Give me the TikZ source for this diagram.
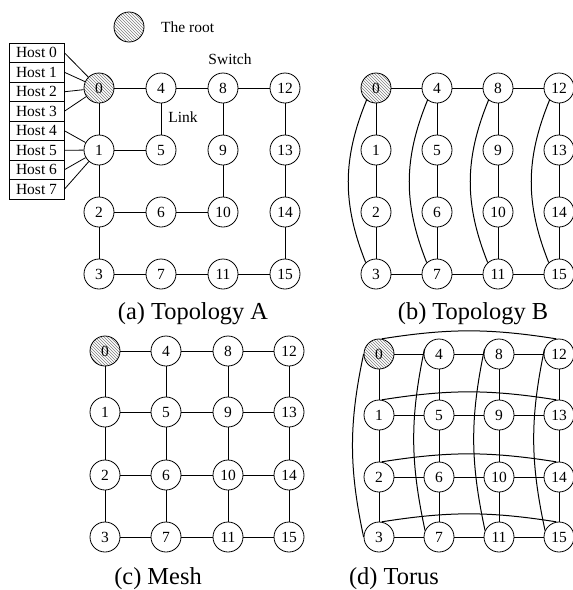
\documentclass[tikz,border=0pt]{standalone}
\usepackage{fontspec}
\setmainfont{Liberation Serif}
\usetikzlibrary{patterns}
\begin{document}
\begin{tikzpicture}[x=1pt,y=-1pt,
  sw/.style={draw,circle,line width=0.8pt,minimum size=30pt,inner sep=0pt,fill=white,font=\fontsize{15.5}{16}\selectfont},
  rootsw/.style={draw,circle,line width=0.8pt,minimum size=30pt,inner sep=0pt,pattern=north west lines,pattern color=gray,font=\fontsize{15.5}{16}\selectfont},
  hostbox/.style={draw,line width=0.8pt,minimum width=55pt,minimum height=19.5pt,inner sep=0pt,font=\fontsize{15.5}{16}\selectfont},
  lbl/.style={inner sep=0pt,font=\fontsize{15.5}{16}\selectfont},
  captxt/.style={inner sep=0pt,anchor=base,font=\fontsize{24.4}{26}\selectfont},
  lnk/.style={line width=0.8pt},
  arc/.style={line width=1pt}]
\useasboundingbox (0,0) rectangle (573,590);
\fill[white] (0,0) rectangle (573,590);

% ---- panel nodes ----
\foreach \P/\xa/\xb/\xc/\xd/\ya/\yb/\yc/\yd in {a/99/161/223/285/88/150/212/274, b/376/437/498/559/88/150/212/274, c/105/166/228/289/351/412/475/537, d/379/439/499/559/354/415/477/537}{
  \foreach \c/\x in {0/\xa,1/\xb,2/\xc,3/\xd}{
    \foreach \r/\y in {0/\ya,1/\yb,2/\yc,3/\yd}{
      \pgfmathtruncatemacro\n{4*\c+\r}
      \ifnum\n=0
        \node[rootsw] (\P\n) at (\x,\y) {\n};
      \else
        \node[sw] (\P\n) at (\x,\y) {\n};
      \fi
    }
  }
}

% ---- legend and labels ----
\node[rootsw] (rootlegend) at (129,27) {};
\node[lbl,anchor=west] (roottext) at (161,27) {The root};
\node[lbl] (switchtext) at (230,59) {Switch};
\node[lbl] (linktext) at (183,117) {Link};

% ---- hosts ----
\foreach \k in {0,...,7}{
  \node[hostbox] (h\k) at (36.5,52.75+19.5*\k) {Host \k};
}
\foreach \k in {0,...,3}{ \draw[lnk] (h\k.east) -- (a0); }
\foreach \k in {4,...,7}{ \draw[lnk] (h\k.east) -- (a1); }

% ---- panel A edges ----
\foreach \u/\v in {0/4,4/8,8/12,0/1,1/5,4/5,1/2,2/6,6/10,8/9,9/10,12/13,13/14,14/15,2/3,3/7,7/11,11/15}{
  \draw[lnk] (a\u) -- (a\v);
}

% ---- panel B edges ----
\foreach \u/\v in {0/4,4/8,8/12,3/7,7/11,11/15,0/1,1/2,2/3,4/5,5/6,6/7,8/9,9/10,10/11,12/13,13/14,14/15}{
  \draw[lnk] (b\u) -- (b\v);
}
\foreach \u/\v in {0/3,4/7,8/11,12/15}{
  \draw[arc] (b\u.232) to[bend right=22] (b\v.132);
}

% ---- panels C and D grid edges ----
\foreach \P in {c,d}{
  \foreach \u/\v in {0/4,4/8,8/12,1/5,5/9,9/13,2/6,6/10,10/14,3/7,7/11,11/15,0/1,1/2,2/3,4/5,5/6,6/7,8/9,9/10,10/11,12/13,13/14,14/15}{
    \draw[lnk] (\P\u) -- (\P\v);
  }
}

% ---- torus wrap links ----
\draw[arc] (d0.180) to[bend right=12] (d3.180);
\foreach \u/\v in {4/7,8/11,12/15}{
  \draw[arc] (d\u.160) to[bend right=12] (d\v.155);
}
\foreach \u/\v in {0/12,1/13,2/14,3/15}{
  \draw[arc] (d\u.80) to[bend left=9] (d\v.100);
}

% ---- captions ----
\node[captxt] (capa) at (193,319) {(a) Topology A};
\node[captxt] (capb) at (473,319) {(b) Topology B};
\node[captxt] (capc) at (158,584) {(c) Mesh};
\node[captxt] (capd) at (394,584) {(d) Torus};
\end{tikzpicture}
\end{document}
